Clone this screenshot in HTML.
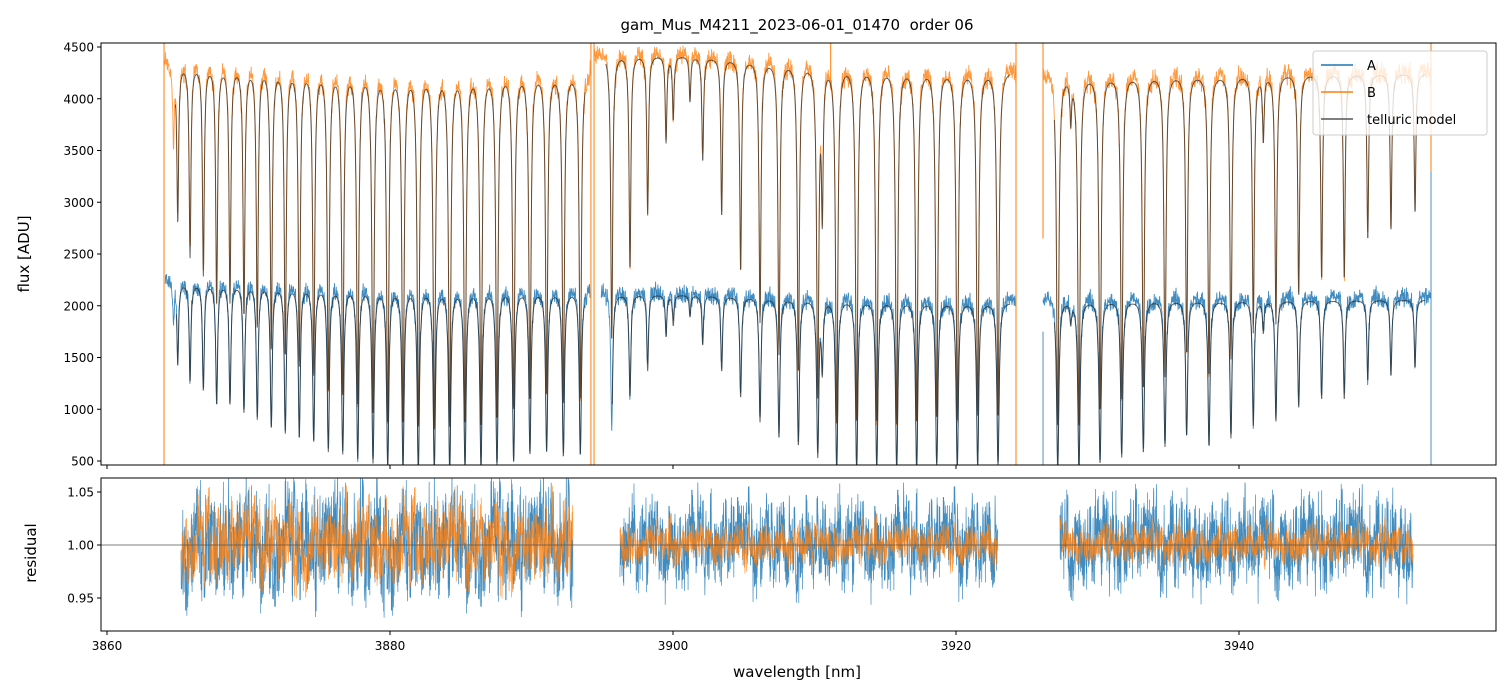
<!DOCTYPE html>
<html><head><meta charset="utf-8"><style>
html,body{margin:0;padding:0;background:#fff;}
svg{display:block;font-family:"DejaVu Sans","Liberation Sans",sans-serif;}
</style></head><body>
<svg id="chart" width="1510" height="696" viewBox="0 0 1510 696">
<defs>
<clipPath id="clipTop"><rect x="101" y="43" width="1395" height="422"/></clipPath>
<clipPath id="clipBot"><rect x="101" y="478" width="1395" height="153"/></clipPath>
</defs>
<rect width="1510" height="696" fill="#fff"/>
<text x="797" y="30" text-anchor="middle" font-size="15" fill="#000" style="white-space:pre">gam_Mus_M4211_2023-06-01_01470  order 06</text>
<g id="topPanel"></g>
<g id="botPanel"></g>
<text transform="translate(29,254) rotate(-90)" text-anchor="middle" font-size="15">flux [ADU]</text>
<text transform="translate(36,553) rotate(-90)" text-anchor="middle" font-size="15">residual</text>
<text x="797" y="677" text-anchor="middle" font-size="15">wavelength [nm]</text>
<g id="legendG">
<rect x="1313" y="51" width="174" height="84" rx="3" fill="#fff" fill-opacity="0.8" stroke="#ccc"/>
<line x1="1321" y1="65" x2="1353" y2="65" stroke="#1f77b4" stroke-width="1.5"/>
<text x="1367" y="70" font-size="13">A</text>
<line x1="1321" y1="92" x2="1353" y2="92" stroke="#ff7f0e" stroke-width="1.5"/>
<text x="1367" y="97" font-size="13">B</text>
<line x1="1321" y1="119" x2="1353" y2="119" stroke="#555" stroke-width="1.5"/>
<text x="1367" y="124" font-size="13">telluric model</text>
</g>
</svg>
<script>
// ---- data ----
const lineCenters = [3864.7,3865.00,3865.87,3866.81,3867.75,3868.69,3869.68,3870.62,3871.61,3872.60,3873.59,3874.61,3875.64,3876.66,3877.72,3878.80,3879.84,3880.92,3882.00,3883.13,3884.22,3885.30,3886.43,3887.56,3888.74,3889.89,3891.07,3892.25,3893.45,
3895.67,3896.96,3898.21,3899.51,3900.02,3901.2,3902.10,3903.44,3904.78,3906.15,3907.49,3908.86,3910.23,3910.55,3911.57,3912.98,3914.40,3915.81,3917.22,3918.64,3920.09,3921.53,3922.97,
3927.19,3928.11,3928.69,3930.18,3931.71,3933.24,3934.77,3936.30,3937.88,3939.43,3941.01,3941.72,3942.61,3944.22,3945.84,3947.44,3949.10,3950.74,3952.44];
const lineMinT = [0.82,0.65,0.57,0.53,0.47,0.47,0.44,0.41,0.37,0.35,0.33,0.31,0.27,0.26,0.24,0.22,0.2,0.2,0.19,0.19,0.19,0.2,0.2,0.21,0.23,0.26,0.27,0.25,0.26,
0.38,0.53,0.65,0.81,0.86,0.9,0.77,0.65,0.53,0.42,0.35,0.31,0.26,0.67,0.2,0.2,0.2,0.2,0.2,0.21,0.21,0.22,0.22,
0.2,0.9,0.2,0.23,0.26,0.28,0.31,0.36,0.31,0.35,0.41,0.85,0.43,0.49,0.53,0.53,0.62,0.64,0.68];
const segStartA = [3864.10,3894.91,3926.15];
const segEndA   = [3894.15,3924.20,3953.55];
const segStartB = [3864.03,3894.45,3926.15];
const segEndB   = [3894.20,3924.24,3953.57];
const contA0 = [2230,2120,2060], contA1 = [2150,2040,2060];
const contB0 = [4350,4450,4250], contB1 = [4280,4280,4250];
const resStart = [3865.23,3896.25,3927.35];
const resEnd   = [3892.93,3922.97,3952.30];
const resAmpA = [0.042,0.030,0.032];
const resAmpB = [0.030,0.014,0.014];
const edgeBx = [3864.03,3894.20,3894.42,3924.24,3926.15,3953.57,3911.14];
const edgeBlo = [300,300,300,300,2650,3300,4100];
const edgeBhi = [4600,4600,4600,4600,4600,4600,4600];
const edgeAx = [3926.15,3953.57];
const edgeAlo = [300,300];
const edgeAhi = [1750,3300];
const noise = [0.12,-0.45,0.83,-0.21,0.05,-0.92,0.38,0.61,-0.33,0.17,-0.74,0.95,-0.08,0.29,-0.56,0.44,-0.15,0.71,-0.88,0.02,
0.53,-0.27,-0.64,0.19,0.87,-0.41,0.08,-0.12,0.66,-0.95,0.31,0.24,-0.52,0.77,-0.03,-0.69,0.48,0.14,-0.37,0.91,
-0.19,0.58,-0.81,0.06,0.35,-0.48,0.72,-0.26,-0.07,0.99,-0.62,0.21,0.43,-0.84,0.11,-0.31,0.64,-0.11,0.27,-0.77,
0.85,-0.04,-0.58,0.39,0.16,-0.93,0.52,0.09,-0.23,0.69,-0.46,0.33,-0.71,0.97,-0.16,0.04,-0.39,0.62,-0.86,0.25,
0.46,-0.14,0.79,-0.53,0.01,-0.67,0.41,0.22,-0.29,0.89,-0.98,0.36,0.13,-0.44,0.74,-0.09,-0.61,0.55,0.18,-0.35,0.93];
const yTicksTop = [500,1000,1500,2000,2500,3000,3500,4000,4500];
const yTicksBot = [0.95,1.00,1.05];
const xTicks = [3860,3880,3900,3920,3940];

// ---- scales ----
const X0=101,X1=1496,TT=43,TB=465,BT=478,BB=631;
const xS = nm => 107 + (nm-3860)*14.15;
const yT = v => 461 - (v-500)*0.1035;
const yB = v => 545 - (v-1)*1060;
const NS='http://www.w3.org/2000/svg';
function mk(tag, attrs, parent){const e=document.createElementNS(NS,tag);for(const k in attrs)e.setAttribute(k,attrs[k]);parent.appendChild(e);return e;}
const W=0.065;
function trans(nm){let tau=0;for(let i=0;i<lineCenters.length;i++){const d=(nm-lineCenters[i])/W;if(Math.abs(d)>60)continue;tau+=-Math.log(lineMinT[i])/(1+d*d);}return Math.exp(-tau);}
const STEP=0.02;
const gTop=document.getElementById('topPanel'), gBot=document.getElementById('botPanel');

function frame(g,y0,y1,name){const r=mk('rect',{x:X0,y:y0,width:X1-X0,height:y1-y0,fill:'none',stroke:'#000','stroke-width':1},g);
 
 }
xTicks.forEach(t=>{
 const x=xS(t);
 const a=mk('line',{x1:x,x2:x,y1:TB,y2:TB+4,stroke:'#000'},gTop);
 
 
 const b=mk('line',{x1:x,x2:x,y1:BB,y2:BB+4,stroke:'#000'},gBot);
 
 
 const l=mk('text',{x:x,y:BB+19,'text-anchor':'middle','font-size':12},gBot);l.textContent=String(t);
 
 
});
yTicksTop.forEach(t=>{const y=yT(t);
 const a=mk('line',{x1:X0-4,x2:X0,y1:y,y2:y,stroke:'#000'},gTop);
 
 
 const l=mk('text',{x:X0-7,y:y+4.5,'text-anchor':'end','font-size':12},gTop);l.textContent=String(t);
 
 
});
yTicksBot.forEach(t=>{const y=yB(t);
 const a=mk('line',{x1:X0-4,x2:X0,y1:y,y2:y,stroke:'#000'},gBot);
 
 
 const l=mk('text',{x:X0-7,y:y+4.5,'text-anchor':'end','font-size':12},gBot);l.textContent=t.toFixed(2);
 
 
});

const gT=mk('g',{'clip-path':'url(#clipTop)'},gTop);


const gB=mk('g',{'clip-path':'url(#clipBot)'},gBot);



function fluxPath(st,en,c0,c1,amp,off,withNoise){
 let d='';let i=0;
 for(let nm=st;nm<=en;nm+=STEP,i++){
  const f=(nm-st)/(en-st);const c=c0+(c1-c0)*f;const t=trans(nm);
  let v=c*t;
  if(withNoise){const n=noise[(i*37+off)%noise.length];const n2=noise[(i*11+off*3)%noise.length];const n3=noise[(Math.floor(i/7)*17+off)%noise.length];
   v+=amp*Math.sqrt(t)*(n+0.6*n2+0.8*Math.abs(n3));}
  d+=(d?'L':'M')+xS(nm).toFixed(2)+' '+yT(v).toFixed(2);
 }
 return d;
}
let dA='',dB='',dMA='',dMB='';
for(let s=0;s<3;s++){
 dA+=fluxPath(segStartA[s],segEndA[s],contA0[s],contA1[s],70,s*13+5,true);
 dMA+=fluxPath(segStartA[s]+0.8,segEndA[s]-0.4,contA0[s],contA1[s],0,0,false);
 dB+=fluxPath(segStartB[s],segEndB[s],contB0[s],contB1[s],75,s*17+41,true);
 dMB+=fluxPath(segStartB[s]+0.8,segEndB[s]-0.4,contB0[s],contB1[s],0,0,false);
}
const pA=mk('path',{d:dA,fill:'none',stroke:'#1f77b4','stroke-width':0.9,'stroke-opacity':0.85},gT);


edgeAx.forEach((x,i)=>{const e=mk('line',{x1:xS(x),x2:xS(x),y1:yT(edgeAlo[i]),y2:yT(edgeAhi[i]),stroke:'#1f77b4','stroke-width':1,'stroke-opacity':0.8},gT);
 
 });
const pB=mk('path',{d:dB,fill:'none',stroke:'#ff7f0e','stroke-width':0.9,'stroke-opacity':0.8},gT);


edgeBx.forEach((x,i)=>{const e=mk('line',{x1:xS(x),x2:xS(x),y1:yT(edgeBlo[i]),y2:yT(edgeBhi[i]),stroke:'#ff7f0e','stroke-width':1.2,'stroke-opacity':0.85},gT);
 
 });
const pMA=mk('path',{d:dMA,fill:'none',stroke:'#222','stroke-width':1,'stroke-opacity':0.7},gT);


const pMB=mk('path',{d:dMB,fill:'none',stroke:'#222','stroke-width':1,'stroke-opacity':0.7},gT);



function resPath(st,en,amp,off){let d='';let i=0;
 for(let nm=st;nm<=en;nm+=STEP*0.8,i++){
  const n=noise[(i*29+off)%noise.length], n2=noise[(i*7+off*5)%noise.length], n3=noise[(Math.floor(i/9)*13+off)%noise.length];
  const v=1+amp*(n+0.5*n2+0.7*n3);
  d+=(d?'L':'M')+xS(nm).toFixed(2)+' '+yB(v).toFixed(2);}
 return d;}
let rA='',rB='';
for(let s=0;s<3;s++){rA+=resPath(resStart[s],resEnd[s],resAmpA[s],s*19+3);rB+=resPath(resStart[s],resEnd[s],resAmpB[s],s*23+57);}
const qA=mk('path',{d:rA,fill:'none',stroke:'#1f77b4','stroke-width':0.7,'stroke-opacity':0.85},gB);


const qB=mk('path',{d:rB,fill:'none',stroke:'#ff7f0e','stroke-width':0.7,'stroke-opacity':0.8},gB);


const ref=mk('line',{x1:X0,x2:X1,y1:yB(1),y2:yB(1),stroke:'#555','stroke-width':0.8},gB);



frame(gTop,TT,TB,'flux-axes-frame');
frame(gBot,BT,BB,'residual-axes-frame');
document.getElementById('chart').appendChild(document.getElementById('legendG'));
</script>
</body></html>
